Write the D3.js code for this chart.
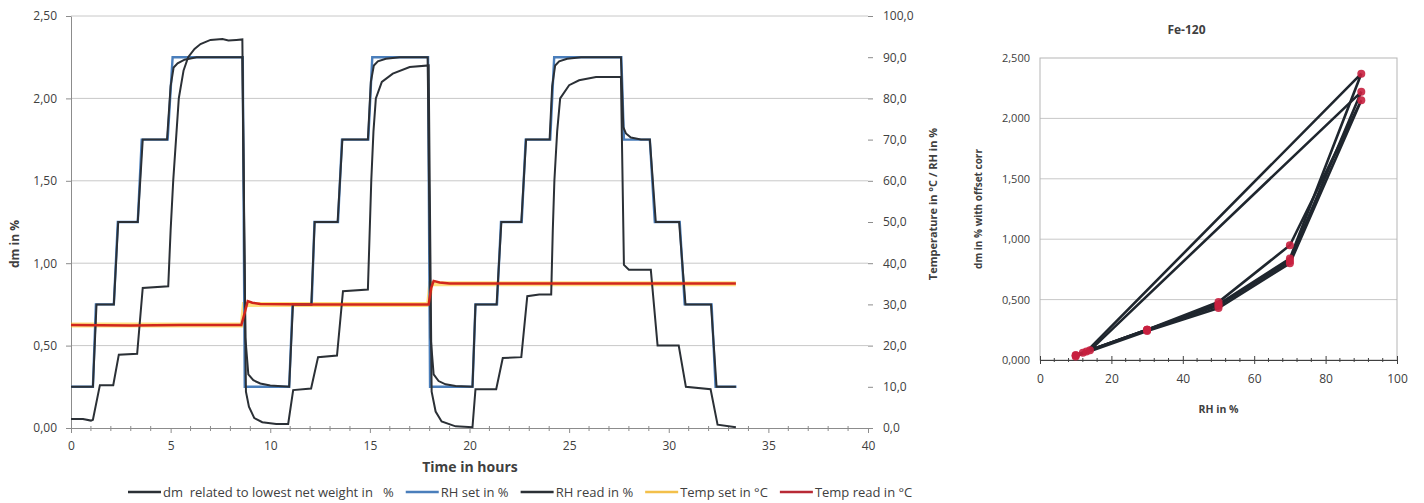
<!DOCTYPE html>
<html>
<head>
<meta charset="utf-8">
<script src="https://cdn.jsdelivr.net/npm/d3@7"></script>
<style>
  body { margin: 0; background: #fff; }
  text { font-family: "Open Sans", Lato, sans-serif; fill: #404040; }
</style>
</head>
<body>
<svg id="chart" width="1424" height="503"></svg>
<script>
// ---- time series (left chart) ----
const dmTime = [0, 0.6, 1.0, 1.1, 1.45, 2.12, 2.4, 3.32, 3.6, 4.88, 5.0, 5.13, 5.41, 5.65, 5.88, 6.2, 6.5, 7.0, 7.6, 7.9,
  8.3, 8.6, 8.78, 8.93, 9.2, 9.6, 10.3, 10.9, 11.15, 12.05, 12.4, 13.35, 13.65, 14.9, 14.98, 15.07, 15.18, 15.3, 15.6, 16.15,
  17.0, 17.95, 18.1, 18.3, 18.6, 19.3, 20.15, 20.3, 21.34, 21.67, 22.6, 22.9, 23.5, 24.1, 24.18, 24.26, 24.4, 24.55, 25.0, 25.5,
  26.35, 27.6, 27.75, 28.0, 29.1, 29.44, 30.5, 30.86, 32.1, 32.45, 33.37];
const dmValue = [0.055, 0.055, 0.045, 0.05, 0.26, 0.26, 0.445, 0.45, 0.85, 0.86, 1.2, 1.5, 2.0, 2.17, 2.25, 2.3, 2.33, 2.355, 2.36, 2.352,
  2.355, 2.358, 0.22, 0.13, 0.06, 0.035, 0.025, 0.025, 0.23, 0.24, 0.43, 0.44, 0.83, 0.84, 1.15, 1.5, 1.8, 2.0, 2.1, 2.15,
  2.19, 2.2, 0.22, 0.1, 0.04, 0.01, 0.005, 0.235, 0.235, 0.425, 0.43, 0.8, 0.81, 0.81, 1.2, 1.5, 1.8, 2.0, 2.08, 2.11,
  2.13, 2.13, 0.99, 0.96, 0.96, 0.5, 0.5, 0.25, 0.235, 0.02, 0.005];

const rhSetTime = [0, 1.1, 1.25, 2.15, 2.35, 3.35, 3.55, 4.85, 5.1, 8.62, 8.72, 10.95, 11.12, 12.08, 12.22, 13.4, 13.6, 14.92, 15.12, 17.92,
  18.02, 20.15, 20.3, 21.38, 21.58, 22.62, 22.82, 24.05, 24.25, 27.62, 27.75, 29.05, 29.3, 30.55, 30.8, 32.15, 32.35, 33.4];
const rhSetValue = [10, 10, 30, 30, 50, 50, 70, 70, 90, 90, 10, 10, 30, 30, 50, 50, 70, 70, 90, 90,
  10, 10, 30, 30, 50, 50, 70, 70, 90, 90, 70, 70, 50, 50, 30, 30, 10, 10];

const rhReadTime = [0, 1.1, 1.28, 2.15, 2.37, 3.35, 3.6, 4.82, 5.0, 5.15, 5.35, 5.7, 6.3, 8.6, 8.75, 8.9, 9.15, 9.5, 10.0, 10.95,
  11.14, 12.06, 12.23, 13.38, 13.62, 14.9, 15.05, 15.2, 15.4, 15.8, 16.5, 17.9, 18.05, 18.2, 18.45, 18.8, 19.3, 20.15,
  20.3, 21.36, 21.6, 22.6, 22.84, 24.02, 24.15, 24.3, 24.5, 24.9, 25.6, 27.6,
  27.72, 27.85, 28.1, 28.6, 29.05, 29.35, 30.52, 30.84, 32.12, 32.4, 33.37];
const rhReadValue = [10, 10, 30, 30, 50, 50, 70, 70, 83, 87.5, 88.5, 89.4, 90, 90, 22, 13, 11.6, 10.8, 10.3, 10,
  30, 30, 50, 50, 70, 70, 84, 88, 89, 89.6, 90, 90, 22, 13, 11.4, 10.6, 10.2, 10,
  30, 30, 50, 50, 70, 70, 83, 88, 89, 89.6, 90, 90,
  73, 71.5, 70.5, 70, 70, 50, 50, 30, 30, 10, 10];

const tempSetTime = [0, 8.6, 8.7, 17.95, 18.05, 33.37];
const tempSetValue = [25, 25, 30, 30, 35, 35];

const tempReadTime = [0, 3.0, 5.5, 8.55, 8.72, 8.87, 9.1, 9.5, 12.0, 17.95, 18.08, 18.2, 18.5, 19.0, 33.37];
const tempReadValue = [25, 24.9, 25, 25, 28, 30.8, 30.4, 30.1, 30, 30, 34, 35.7, 35.3, 35.1, 35.1];

const timeTicks = [0, 5, 10, 15, 20, 25, 30, 35, 40];
const dmTicks = [0, 0.5, 1, 1.5, 2, 2.5];
const rightTicks = [0, 10, 20, 30, 40, 50, 60, 70, 80, 90, 100];
const legendNames = ["dm  related to lowest net weight in   %", "RH set in %", "RH read in %", "Temp set in °C", "Temp read in °C"];

// ---- hysteresis (right chart) ----
const hyst1RH = [10, 30, 50, 70, 90, 13];
const hyst1Dm = [0.04, 0.25, 0.46, 0.84, 2.37, 0.07];
const hyst2RH = [12, 30, 50, 70, 90, 14];
const hyst2Dm = [0.06, 0.25, 0.45, 0.82, 2.22, 0.08];
const hyst3RH = [10, 30, 50, 70, 90, 70, 50, 30, 10];
const hyst3Dm = [0.03, 0.24, 0.43, 0.80, 2.15, 0.95, 0.48, 0.25, 0.04];
const rhTicks = [0, 20, 40, 60, 80, 100];
const hystDmTicks = [0, 0.5, 1, 1.5, 2, 2.5];

const svg = d3.select("#chart");
const loc = d3.formatLocale({decimal: ",", thousands: ".", grouping: [3], currency: ["", ""]});
const zip = (a, b) => a.map((v, i) => [v, b[i]]);

const gridColor = "#c8c8c8";
const axisColor = "#8c8c8c";
const darkLine = "#2b3036";
const font = "'Open Sans', Lato, sans-serif";

// ================= left chart =================
const x = d3.scaleLinear().domain([0, 40]).range([71, 868]);
const yL = d3.scaleLinear().domain([0, 2.5]).range([428, 16]);
const yR = d3.scaleLinear().domain([0, 100]).range([428, 16]);

const left = svg.append("g");

left.append("g").selectAll("line")
  .data(dmTicks.slice(1))
  .join("line")
  .attr("x1", x(0)).attr("x2", x(40))
  .attr("y1", d => yL(d)).attr("y2", d => yL(d))
  .attr("stroke", gridColor).attr("stroke-width", 1);

function styleAxis(g) {
  g.select(".domain").attr("stroke", axisColor);
  g.selectAll(".tick line").attr("stroke", axisColor);
  g.selectAll("text").attr("font-size", 12).attr("fill", "#595959").style("font-family", font);
}

left.append("g")
  .attr("transform", `translate(${x(0)},0)`)
  .call(d3.axisLeft(yL).tickValues(dmTicks).tickFormat(loc.format(".2f")).tickSize(5).tickPadding(9).tickSizeOuter(0))
  .call(styleAxis);

left.append("g")
  .attr("transform", `translate(${x(40)},0)`)
  .call(d3.axisRight(yR).tickValues(rightTicks).tickFormat(loc.format(".1f")).tickSize(5).tickPadding(10).tickSizeOuter(0))
  .call(styleAxis)
  .call(g => g.select(".domain").remove());

// minor ticks on time axis
left.append("g").selectAll("line")
  .data(d3.range(0, 41, 1).filter(d => d % 5 !== 0))
  .join("line")
  .attr("x1", d => x(d)).attr("x2", d => x(d))
  .attr("y1", yL(0) - 2).attr("y2", yL(0) + 3)
  .attr("stroke", axisColor);

left.append("g")
  .attr("transform", `translate(0,${yL(0)})`)
  .call(d3.axisBottom(x).tickValues(timeTicks).tickFormat(d3.format("d")).tickSize(5).tickPadding(8).tickSizeOuter(0))
  .call(styleAxis);

const lineL = d3.line().x(d => x(d[0])).y(d => yL(d[1]));
const lineR = d3.line().x(d => x(d[0])).y(d => yR(d[1]));

left.append("path").datum(zip(tempSetTime, tempSetValue))
  .attr("d", lineR).attr("fill", "none").attr("stroke", "#ffc000").attr("stroke-opacity", 0.5).attr("stroke-width", 5);
left.append("path").datum(zip(rhSetTime, rhSetValue))
  .attr("d", lineR).attr("fill", "none").attr("stroke", "#4a7ebb").attr("stroke-width", 2.4);
left.append("path").datum(zip(rhReadTime, rhReadValue))
  .attr("d", lineR).attr("fill", "none").attr("stroke", darkLine).attr("stroke-width", 2);
left.append("path").datum(zip(dmTime, dmValue))
  .attr("d", lineL).attr("fill", "none").attr("stroke", darkLine).attr("stroke-width", 2);
left.append("path").datum(zip(tempReadTime, tempReadValue))
  .attr("d", lineR).attr("fill", "none").attr("stroke", "#d1261c").attr("stroke-width", 2.5);

// axis titles
left.append("text")
  .attr("transform", `translate(19,${(yL(0) + yL(2.5)) / 2 + 22}) rotate(-90)`)
  .attr("text-anchor", "middle").attr("font-size", 12).attr("font-weight", "bold")
  .attr("fill", "#262626").text("dm in %");
left.append("text")
  .attr("transform", `translate(937,204) rotate(-90)`)
  .attr("text-anchor", "middle").attr("font-size", 11).attr("font-weight", "bold")
  .attr("fill", "#262626").text("Temperature in °C / RH in %");
left.append("text")
  .attr("x", 470).attr("y", 472)
  .attr("text-anchor", "middle").attr("font-size", 14).attr("font-weight", "bold")
  .attr("fill", "#262626").text("Time in hours");

// legend
const legendColors = [darkLine, "#4a7ebb", darkLine, "#f3c04a", "#b82a35"];
const legend = left.append("g").attr("transform", "translate(128,492)");
let lx = 0;
legendNames.forEach((name, i) => {
  const item = legend.append("g").attr("transform", `translate(${lx},0)`);
  item.append("line").attr("x1", 0).attr("x2", 33).attr("y1", 0).attr("y2", 0)
    .attr("stroke", legendColors[i]).attr("stroke-width", 2.4);
  const t = item.append("text").attr("x", 35).attr("y", 4.5).attr("font-size", 13)
    .attr("fill", "#595959").style("white-space", "pre").text(name);
  lx += 35 + t.node().getComputedTextLength() + 12;
});

// ================= right chart =================
const xH = d3.scaleLinear().domain([0, 100]).range([1040, 1397]);
const yH = d3.scaleLinear().domain([0, 2.5]).range([360, 58]);
const right = svg.append("g");

right.append("g").selectAll("line")
  .data(hystDmTicks.slice(1, -1))
  .join("line")
  .attr("x1", xH(0)).attr("x2", xH(100))
  .attr("y1", d => yH(d)).attr("y2", d => yH(d))
  .attr("stroke", gridColor);

right.append("rect")
  .attr("x", xH(0)).attr("y", yH(2.5))
  .attr("width", xH(100) - xH(0)).attr("height", yH(0) - yH(2.5))
  .attr("fill", "none").attr("stroke", "#b5b5b5");

right.append("g").selectAll("line")
  .data(d3.range(0, 101, 4).filter(d => d % 20 !== 0))
  .join("line")
  .attr("x1", d => xH(d)).attr("x2", d => xH(d))
  .attr("y1", yH(0) - 2).attr("y2", yH(0) + 2)
  .attr("stroke", "#404040");

right.append("g")
  .attr("transform", `translate(0,${yH(0)})`)
  .call(d3.axisBottom(xH).tickValues(rhTicks).tickFormat(d3.format("d")).tickSize(4).tickPadding(10).tickSizeOuter(0))
  .call(styleAxis)
  .call(g => g.select(".domain").attr("stroke", "#404040"))
  .call(g => g.selectAll(".tick line").attr("stroke", "#404040").attr("y1", -4));

right.append("g")
  .attr("transform", `translate(${xH(0)},0)`)
  .call(d3.axisLeft(yH).tickValues(hystDmTicks).tickFormat(loc.format(".3f")).tickSize(0).tickPadding(10))
  .call(styleAxis)
  .call(g => g.select(".domain").remove())
  .call(g => g.selectAll("text").attr("font-size", 11));

const lineH = d3.line().x(d => xH(d[0])).y(d => yH(d[1]));
const hystSeries = [zip(hyst1RH, hyst1Dm), zip(hyst2RH, hyst2Dm), zip(hyst3RH, hyst3Dm)];

right.append("g").selectAll("path")
  .data(hystSeries)
  .join("path")
  .attr("d", lineH).attr("fill", "none").attr("stroke", "#1f262e").attr("stroke-width", 2.6);

right.append("g").selectAll("circle")
  .data(hystSeries.flat())
  .join("circle")
  .attr("cx", d => xH(d[0])).attr("cy", d => yH(d[1])).attr("r", 4)
  .attr("fill", "#c8203f").attr("fill-opacity", 0.9);

right.append("text")
  .attr("x", (xH(0) + xH(100)) / 2 - 32).attr("y", 34)
  .attr("text-anchor", "middle").attr("font-size", 12).attr("font-weight", "bold")
  .attr("fill", "#262626").text("Fe-120");
right.append("text")
  .attr("x", (xH(0) + xH(100)) / 2).attr("y", 413)
  .attr("text-anchor", "middle").attr("font-size", 10.5).attr("font-weight", "bold")
  .attr("fill", "#262626").text("RH in %");
right.append("text")
  .attr("transform", `translate(982,${(yH(0) + yH(2.5)) / 2}) rotate(-90)`)
  .attr("text-anchor", "middle").attr("font-size", 10).attr("font-weight", "bold")
  .attr("fill", "#262626").text("dm in % with offset corr");
</script>
</body>
</html>
